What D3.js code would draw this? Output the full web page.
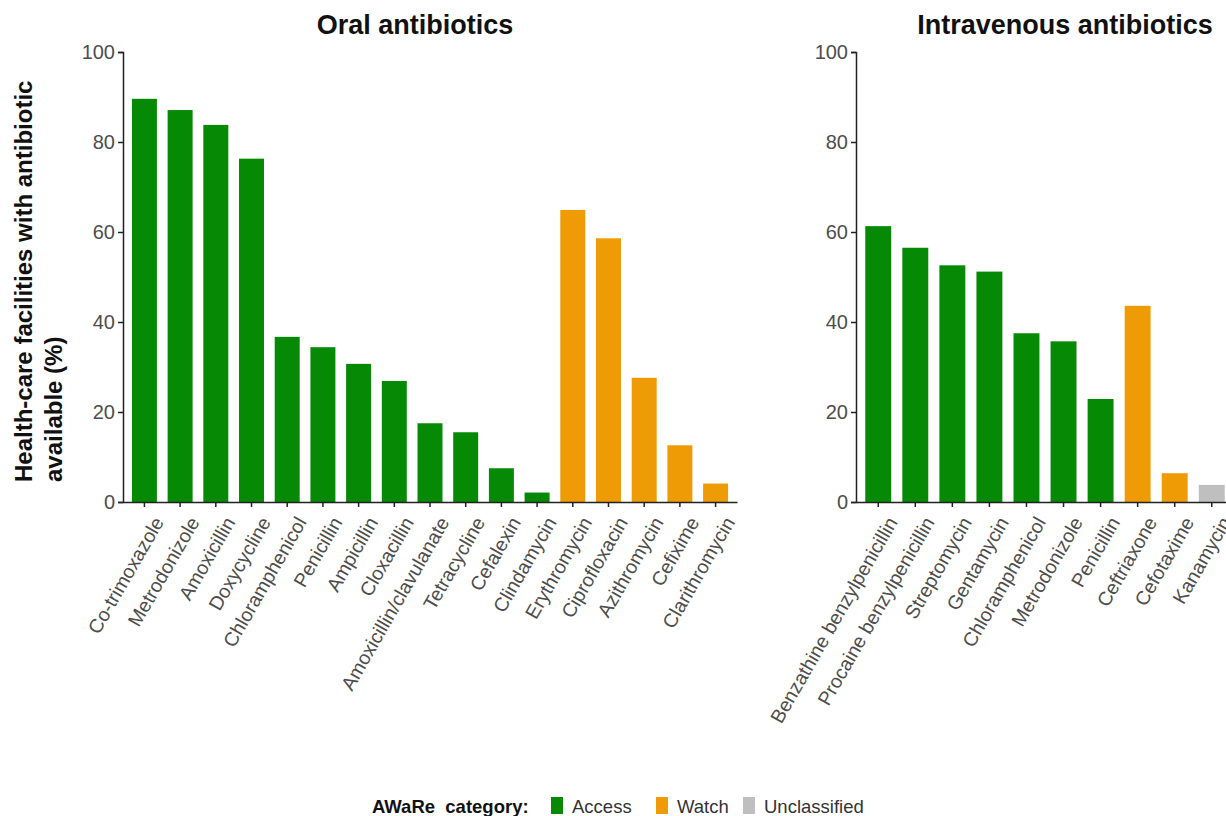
<!DOCTYPE html>
<html>
<head>
    <title>Antibiotic availability by AWaRe category</title>
    <script src="https://d3js.org/d3.v7.min.js"></script>
    <style>
        body { margin: 0; background: white; }
        text { font-family: "Liberation Sans", Arial, sans-serif; }
        .tick text { fill: #4d4d4d; font-size: 20px; }
        .domain, .tick line { stroke: #222; }
    </style>
</head>
<body>

    <svg width="1226" height="816"></svg>

    <script>

        // data
        const oralDrugs = ["Co-trimoxazole", "Metrodonizole", "Amoxicillin", "Doxycycline",
            "Chloramphenicol", "Penicillin", "Ampicillin", "Cloxacillin", "Amoxicillin/clavulanate",
            "Tetracycline", "Cefalexin", "Clindamycin", "Erythromycin", "Ciprofloxacin",
            "Azithromycin", "Cefixime", "Clarithromycin"]
        const oralValues = [89.6, 87.1, 83.8, 76.3, 36.7, 34.4, 30.7, 26.9, 17.5,
            15.5, 7.5, 2.1, 64.9, 58.6, 27.6, 12.6, 4.1]
        const oralGroup = ["Access", "Access", "Access", "Access", "Access", "Access", "Access",
            "Access", "Access", "Access", "Access", "Access", "Watch", "Watch", "Watch", "Watch", "Watch"]

        const ivDrugs = ["Benzathine benzylpenicillin", "Procaine benzylpenicillin", "Streptomycin",
            "Gentamycin", "Chloramphenicol", "Metrodonizole", "Penicillin", "Ceftriaxone",
            "Cefotaxime", "Kanamycin"]
        const ivValues = [61.3, 56.5, 52.6, 51.2, 37.5, 35.7, 22.9, 43.6, 6.4, 3.8]
        const ivGroup = ["Access", "Access", "Access", "Access", "Access", "Access", "Access",
            "Watch", "Watch", "Unclassified"]

        const yTicks = [0, 20, 40, 60, 80, 100]
        const awareGroups = ["Access", "Watch", "Unclassified"]
        const awareColors = ["#068a06", "#ef9b05", "#bfbfbf"]

        const color = d3.scaleOrdinal(awareGroups, awareColors)

        const svg = d3.select("svg")

        const plotTop = 52
        const plotBottom = 502

        const y = d3.scaleLinear([0, 100], [plotBottom, plotTop])

        function drawPanel(title, titleX, left, right, names, values, groups) {
            const data = names.map(function(n, i) {
                return { name: n, value: values[i], group: groups[i] }
            })

            const x = d3.scaleBand()
                .domain(names)
                .range([left, right])
                .paddingInner(0.3)
                .paddingOuter(0.25)

            const g = svg.append("g")

            g.selectAll(".bar")
                .data(data)
                .enter().append("rect")
                .attr("class", "bar")
                .attr("x", function(d) { return x(d.name) })
                .attr("y", function(d) { return y(d.value) })
                .attr("width", x.bandwidth())
                .attr("height", function(d) { return plotBottom - y(d.value) })
                .attr("fill", function(d) { return color(d.group) })

            // y axis
            g.append("g")
                .attr("transform", "translate(" + left + ",0)")
                .call(d3.axisLeft(y).tickValues(yTicks).tickSize(5).tickPadding(3).tickFormat(d3.format("d")))
                .call(function(a) { a.selectAll(".domain, .tick line").attr("stroke-width", 1.5) })

            // x axis, labels turned 60 degrees
            const xa = g.append("g")
                .attr("transform", "translate(0," + plotBottom + ")")
                .call(d3.axisBottom(x).tickSize(5).tickSizeOuter(0))
            xa.selectAll(".domain, .tick line").attr("stroke-width", 1.5)
            xa.selectAll(".tick text")
                .attr("text-anchor", "end")
                .attr("x", 0)
                .attr("y", 0)
                .attr("dy", 0)
                .style("font-size", "19.5px")
                .attr("transform", "translate(20,20) rotate(-60)")

            svg.append("text")
                .attr("x", titleX)
                .attr("y", 34)
                .attr("text-anchor", "middle")
                .attr("font-size", 27)
                .attr("font-weight", "bold")
                .attr("fill", "#111")
                .text(title)
        }

        drawPanel("Oral antibiotics", 415, 123, 737, oralDrugs, oralValues, oralGroup)
        drawPanel("Intravenous antibiotics", 1065, 856, 1234, ivDrugs, ivValues, ivGroup)

        // y axis title, two lines starting at the same point
        const yTitle = svg.append("text")
            .attr("transform", "translate(32,482) rotate(-90)")
            .attr("text-anchor", "start")
            .attr("font-size", 24)
            .attr("font-weight", "bold")
            .attr("fill", "#111")
        yTitle.append("tspan").attr("x", 0).attr("y", 0).text("Health-care facilities with antibiotic")
        yTitle.append("tspan").attr("x", 0).attr("y", 29.5).text("available (%)")

        // legend
        const legend = svg.append("g").attr("transform", "translate(0,806)")
        legend.append("text")
            .attr("x", 372)
            .attr("y", 7)
            .attr("font-size", 18.5)
            .attr("font-weight", "bold")
            .attr("fill", "#111")
            .attr("xml:space", "preserve")
            .text("AWaRe  category:")

        const legendX = [551, 656, 743]
        awareGroups.forEach(function(grp, i) {
            legend.append("rect")
                .attr("x", legendX[i])
                .attr("y", -9)
                .attr("width", 12)
                .attr("height", 17)
                .attr("fill", color(grp))
            legend.append("text")
                .attr("x", legendX[i] + 21)
                .attr("y", 7)
                .attr("font-size", 18.5)
                .attr("fill", "#333")
                .text(grp)
        })
    </script>

</body>
</html>
